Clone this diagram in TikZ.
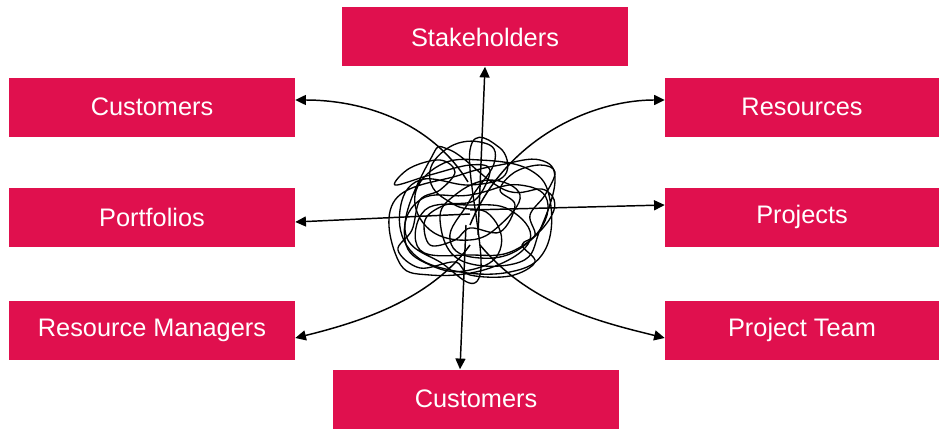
\documentclass[tikz,border=0pt]{standalone}
\usepackage{fontspec}
\setmainfont{Liberation Sans}
\usetikzlibrary{arrows.meta}
\definecolor{boxred}{HTML}{E0104E}
\begin{document}
\begin{tikzpicture}[x=0.75pt,y=-0.75pt,
  box/.style={fill=boxred,draw=none,text=white,inner sep=0pt,minimum height=59*0.75pt,font=\fontsize{19}{22}\selectfont},
  wbox/.style={box,minimum width=286*0.75pt},
  rbox/.style={box,minimum width=274*0.75pt},
  conn/.style={line width=1.1pt,-{Triangle[length=8pt,width=7.5pt]}},
  tangle/.style={line width=1pt}]
\useasboundingbox (0,0) rectangle (941,428);
\node[wbox] (stake) at (485,37) {Stakeholders};
\node[wbox] (cust1) at (152,107) {Customers};
\node[wbox] (port) at (152,217) {Portfolios};
\node[wbox] (resm) at (152,330) {Resource Managers};
\node[rbox] (res) at (802,107) {Resources};
\node[rbox] (proj) at (802,217) {Projects};
\node[rbox] (pteam) at (802,330) {Project Team};
\node[wbox] (cust2) at (476,399) {Customers};
% tangle
\draw[tangle] plot[smooth cycle,tension=0.7] coordinates {
(470,150) (500,148) (505,175) (470,185) (420,180) (400,210) (410,250) (450,270)
(510,272) (545,250) (550,200) (530,170) (480,160) (440,165) (415,195) (430,230)
(470,240) (500,225) (520,195) (490,180) (455,195) (440,220) (460,260) (520,262)
(540,230) (555,180) (540,160) (500,165) (460,175) (395,200) (398,260) (430,275)
(490,268) (530,240) (510,210) (470,205) (425,210) (420,250) (470,255) (515,250)
(552,215) (545,190) (505,190) (450,150) (430,160) (405,230) (440,262) (480,275)};
\draw[tangle] plot[smooth cycle,tension=0.8] coordinates {
(445,150) (480,142) (495,160) (470,200) (450,240) (480,258) (525,245) (548,205)
(520,185) (470,195) (420,200) (405,240) (430,265) (470,270) (500,250) (490,215)
(455,205) (430,180)};
\draw[tangle] plot[smooth cycle,tension=0.6] coordinates {
(395,185) (410,168) (440,160) (455,172) (440,190) (420,200) (412,230) (398,250)
(420,268) (455,262) (470,275) (510,276) (535,262) (522,245) (535,235) (530,215)
(545,195) (555,172) (540,165) (515,172) (500,190) (515,205) (500,232) (470,228)
(455,240) (430,245) (425,220) (445,205) (475,200) (490,170) (470,165) (430,175)};
% connector start points
\coordinate (cTL) at (468,182);
\coordinate (cTR) at (470,225);
\coordinate (cU) at (478,235);
\coordinate (cD) at (466,225);
\coordinate (cL) at (470,214);
\coordinate (cR) at (470,210);
\coordinate (cBL) at (470,245);
\coordinate (cBR) at (480,245);
\draw[conn] (cU) -- (stake.south);
\draw[conn] (cD) -- ([xshift=-16*0.75pt]cust2.north);
\draw[conn] (cL) -- ([yshift=-5*0.75pt]port.east);
\draw[conn] (cR) -- ([yshift=12*0.75pt]proj.west);
\draw[conn] (cTL) .. controls (430,120) and (360,100) .. ([yshift=7*0.75pt]cust1.east);
\draw[conn] (cTR) .. controls (505,140) and (590,100) .. ([yshift=7*0.75pt]res.west);
\draw[conn] (cBL) .. controls (430,300) and (360,322) .. ([yshift=-8*0.75pt]resm.east);
\draw[conn] (cBR) .. controls (530,305) and (600,322) .. ([yshift=-8*0.75pt]pteam.west);
\end{tikzpicture}
\end{document}
